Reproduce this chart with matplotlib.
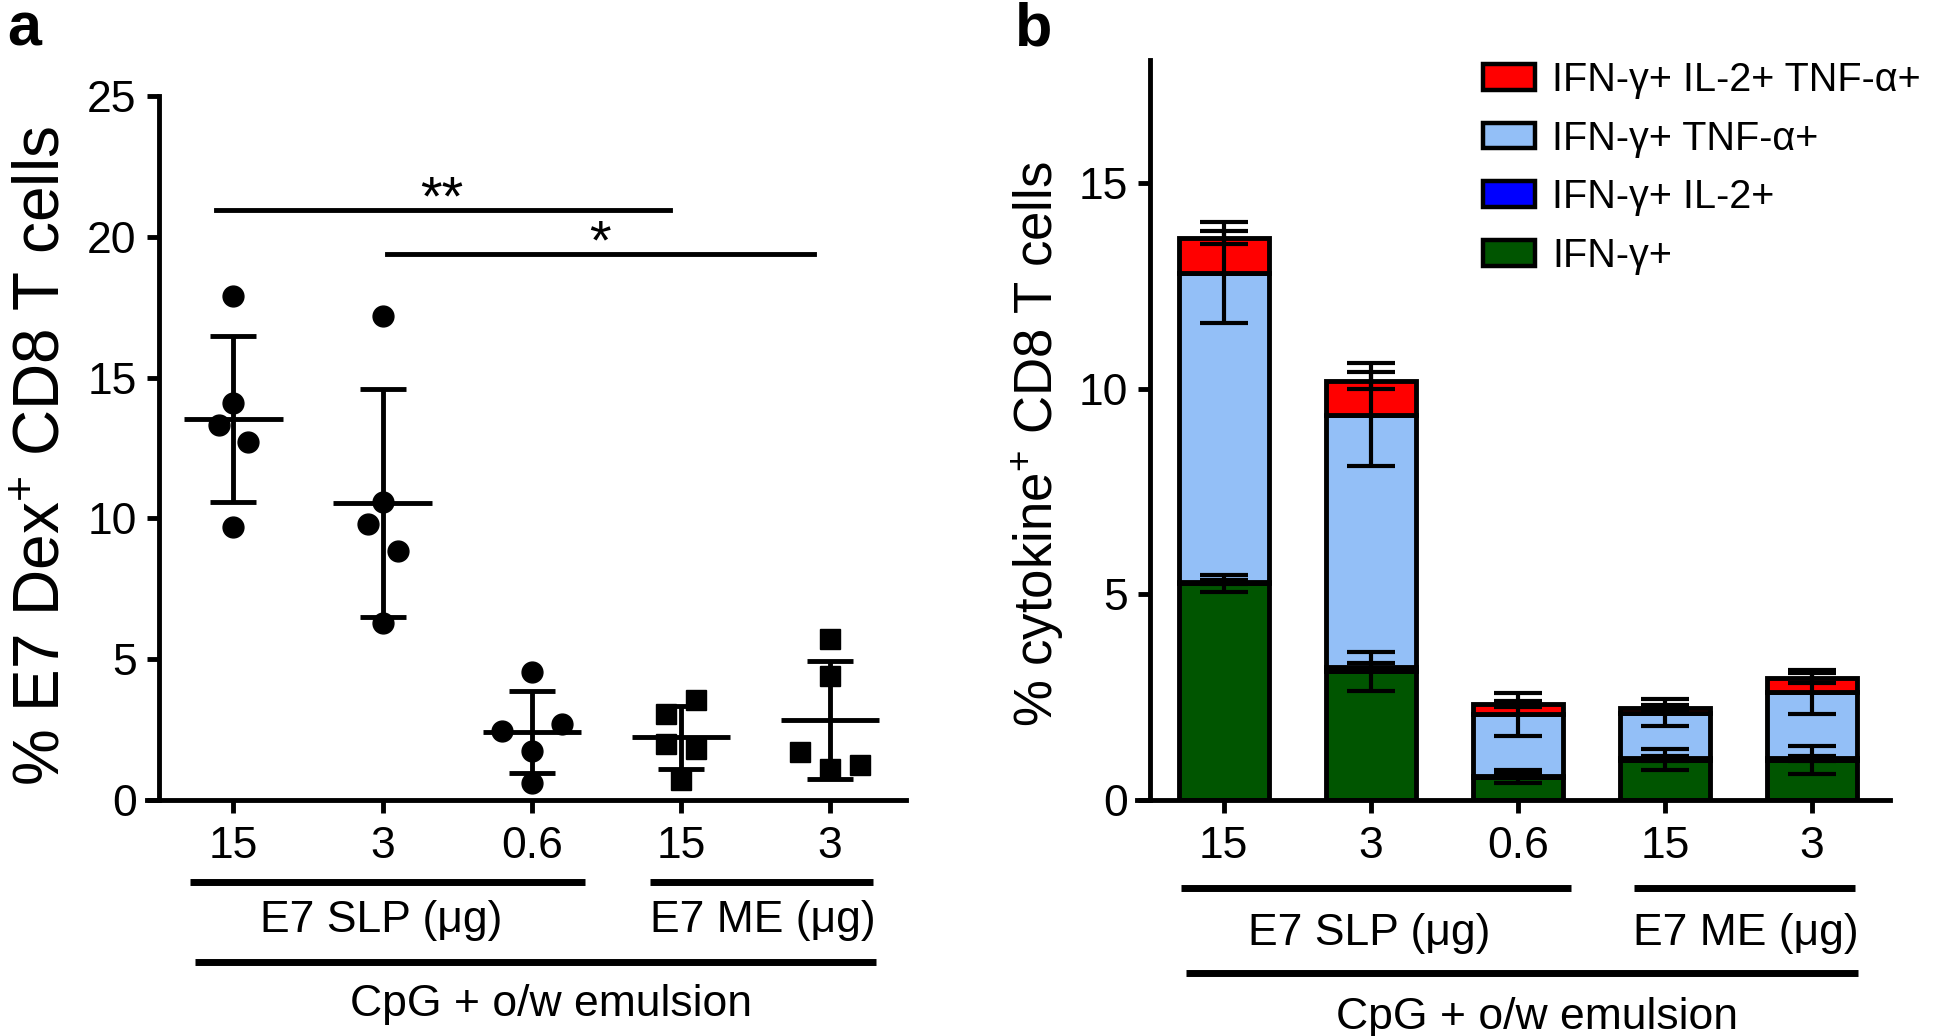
import matplotlib
matplotlib.use('Agg')
import matplotlib.pyplot as plt
import numpy as np
from matplotlib.patches import Patch
from matplotlib.transforms import blended_transform_factory

plt.rcParams['font.family'] = ['Liberation Sans', 'DejaVu Sans']
plt.rcParams['mathtext.fontset'] = 'custom'
plt.rcParams['mathtext.rm'] = 'Liberation Sans'
plt.rcParams['mathtext.it'] = 'Liberation Sans:italic'
plt.rcParams['mathtext.bf'] = 'Liberation Sans:bold'

dose_labels = ['15', '3', '0.6', '15', '3']

# panel a: % E7 Dex+ CD8 T cells per mouse
slp_15 = [17.9, 14.1, 13.3, 12.7, 9.7]
slp_3 = [17.2, 10.6, 9.8, 8.85, 6.3]
slp_06 = [4.55, 2.7, 2.45, 1.75, 0.6]
me_15 = [3.55, 3.05, 2.0, 1.8, 0.7]
me_3 = [5.7, 4.4, 1.7, 1.25, 1.1]
groups_a = [slp_15, slp_3, slp_06, me_15, me_3]
markers_a = ['o', 'o', 'o', 's', 's']
# horizontal scatter of overlapping points (in tick units)
jitter = [[0, 0, -0.1, 0.1, 0],
          [0, 0, -0.1, 0.1, 0],
          [0, 0.2, -0.2, 0, 0],
          [0.1, -0.1, -0.1, 0.1, 0],
          [0, 0, -0.2, 0.2, 0]]

# panel b: stacked cytokine profiles (mean, SD)
ifn_only = [5.27, 3.13, 0.57, 0.98, 0.98]
ifn_il2 = [0.03, 0.10, 0.02, 0.03, 0.03]
ifn_tnf = [7.53, 6.14, 1.49, 1.11, 1.62]
ifn_il2_tnf = [0.85, 0.83, 0.26, 0.12, 0.34]
sd_ifn_only = [0.21, 0.47, 0.16, 0.26, 0.34]
sd_ifn_il2 = [0.05, 0.10, 0.05, 0.05, 0.05]
sd_ifn_tnf = [1.22, 1.25, 0.52, 0.33, 0.54]
sd_ifn_il2_tnf = [0.15, 0.21, 0.08, 0.06, 0.12]

series_b = [
    ('IFN-γ+', ifn_only, sd_ifn_only, '#005500'),
    ('IFN-γ+ IL-2+', ifn_il2, sd_ifn_il2, '#0000FF'),
    ('IFN-γ+ TNF-α+', ifn_tnf, sd_ifn_tnf, '#93BFF7'),
    ('IFN-γ+ IL-2+ TNF-α+', ifn_il2_tnf, sd_ifn_il2_tnf, '#FF0000'),
]

LW = 3.5
TICK_FS = 32

fig = plt.figure(figsize=(19.46, 10.36), dpi=100)
ax_a = fig.add_axes([147 / 1946, 236 / 1036, 759 / 1946, 704 / 1036])
ax_b = fig.add_axes([1137 / 1946, 236 / 1036, 753 / 1946, 740 / 1036])


def style_axis(ax, ymax, yticks):
    for side in ('top', 'right'):
        ax.spines[side].set_visible(False)
    ax.spines['left'].set_position(('data', -0.5))
    ax.spines['left'].set_linewidth(LW)
    ax.spines['bottom'].set_linewidth(LW)
    ax.set_ylim(0, ymax)
    ax.set_yticks(yticks)
    ax.set_xticks(range(len(dose_labels)))
    ax.set_xticklabels(dose_labels)
    ax.tick_params(axis='both', direction='out', length=9, width=LW,
                   labelsize=TICK_FS, color='black')
    ax.tick_params(axis='y', pad=7)
    ax.tick_params(axis='x', pad=10)


def group_lines(ax, y1, y2, y_text1, y_text2):
    tr = blended_transform_factory(ax.transData, ax.transAxes)
    kw = dict(color='black', linewidth=5, solid_capstyle='butt',
              transform=tr, clip_on=False)
    ax.plot([-0.29, 2.36], [y1, y1], **kw)
    ax.plot([2.79, 4.29], [y1, y1], **kw)
    ax.plot([-0.26, 4.31], [y2, y2], **kw)
    ax.text(0.99, y_text1, 'E7 SLP (μg)', transform=tr, ha='center',
            va='center', fontsize=TICK_FS)
    ax.text(3.55, y_text1, 'E7 ME (μg)', transform=tr, ha='center',
            va='center', fontsize=TICK_FS)
    ax.text(2.13, y_text2, 'CpG + o/w emulsion', transform=tr, ha='center',
            va='center', fontsize=TICK_FS)


# ---- panel a ----
ax = ax_a
ax.set_xlim(-0.58, 4.51)
style_axis(ax, 25, [0, 5, 10, 15, 20, 25])
for i, vals in enumerate(groups_a):
    vals = np.array(vals)
    xs = i + np.array(jitter[i])
    ax.plot(xs, vals, linestyle='none', marker=markers_a[i],
            markersize=15 if markers_a[i] == 'o' else 14,
            color='black', zorder=3, clip_on=False)
    m = vals.mean()
    sd = vals.std(ddof=1)
    ax.hlines(m, i - 0.33, i + 0.33, color='black', linewidth=LW, zorder=4)
    ax.errorbar(i, m, yerr=sd, fmt='none', ecolor='black', elinewidth=LW,
                capsize=16.5, capthick=LW, zorder=4)

# significance brackets
ax.plot([-0.12, 2.93], [20.95, 20.95], color='black', linewidth=LW)
ax.text(1.40, 20.78, '**', ha='center', va='baseline', fontsize=40)
ax.plot([1.03, 3.89], [19.4, 19.4], color='black', linewidth=LW)
ax.text(2.46, 19.22, '*', ha='center', va='baseline', fontsize=40)

ax.set_ylabel('% E7 Dex$^{+}$ CD8 T cells', fontsize=46)
ax.yaxis.set_label_coords(-0.098, 0.489)
group_lines(ax, -0.1165, -0.230, -0.171, -0.291)

# ---- panel b ----
ax = ax_b
ax.set_xlim(-0.59, 4.53)
style_axis(ax, 18, [0, 5, 10, 15])
x = np.arange(len(dose_labels))
bottom = np.zeros(len(dose_labels))
handles = []
tops = []
for name, vals, sds, col in series_b:
    vals = np.array(vals)
    ax.bar(x, vals, bottom=bottom, width=0.61, color=col, edgecolor='black',
           linewidth=LW, zorder=2)
    bottom = bottom + vals
    tops.append((bottom.copy(), sds))
    handles.append(Patch(facecolor=col, edgecolor='black', linewidth=3.2, label=name))
for top, sds in tops:
    ax.errorbar(x, top, yerr=sds, fmt='none', ecolor='black', elinewidth=3,
                capsize=17, capthick=3, zorder=3)

ax.set_ylabel('% cytokine$^{+}$ CD8 T cells', fontsize=38)
ax.yaxis.set_label_coords(-0.094, 0.481)
group_lines(ax, -0.119, -0.234, -0.181, -0.294)

leg = ax.legend(handles=handles[::-1], loc='upper left',
                bbox_to_anchor=(1483 / 1946, 1 - 61 / 1036),
                bbox_transform=fig.transFigure, frameon=False, fontsize=28.5,
                handlelength=1.31, handleheight=0.62, handletextpad=0.44,
                labelspacing=0.52, borderpad=0, borderaxespad=0)

fig.text(7 / 1946, 1 - 45 / 1036, 'a', fontsize=44, fontweight='bold',
         ha='left', va='baseline')
fig.text(1015 / 1946, 1 - 45 / 1036, 'b', fontsize=44, fontweight='bold',
         ha='left', va='baseline')

fig.savefig('out.png', dpi=100)
